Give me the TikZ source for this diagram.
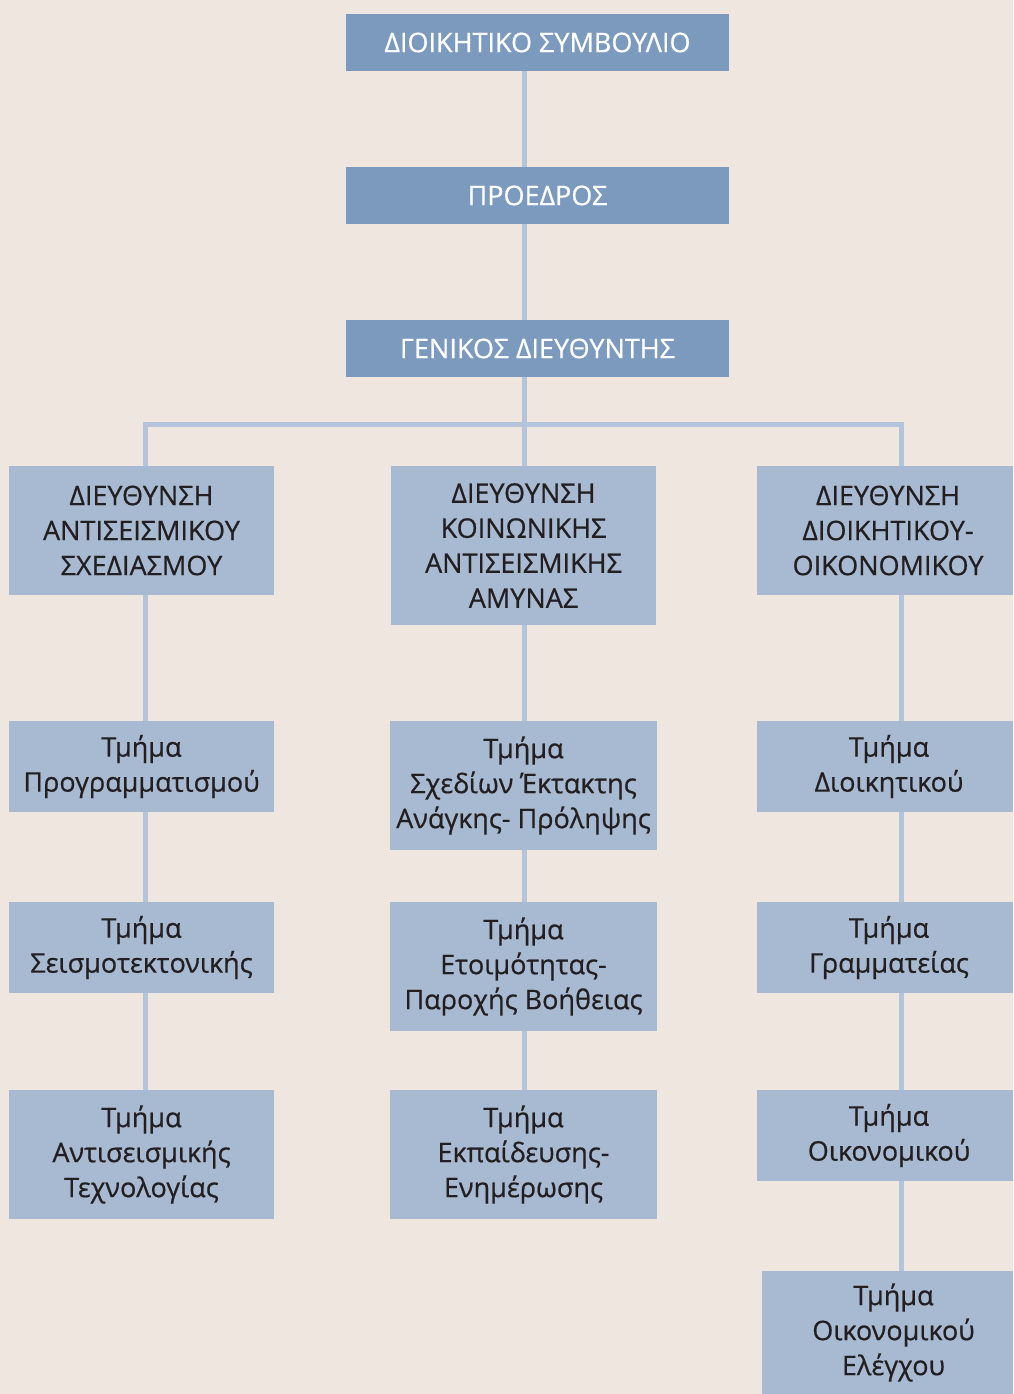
\documentclass[tikz,border=0pt]{standalone}
\usepackage{fontspec}
\setmainfont{Open Sans}
\newfontfamily\boxfont{Open Sans}[FakeBold=0.6]
\definecolor{bgc}{RGB}{238,230,223}
\definecolor{darkbox}{RGB}{124,154,190}
\definecolor{lightbox}{RGB}{168,186,210}
\definecolor{linec}{RGB}{180,196,218}
\definecolor{txt}{RGB}{35,31,32}
\begin{document}
\begin{tikzpicture}[x=1pt,y=-1pt,
  topbox/.style={fill=darkbox, text=white, inner sep=0pt, align=center,
    minimum width=383pt, minimum height=57pt, font=\boxfont\fontsize{27}{35}\selectfont},
  unitbox/.style={fill=lightbox, text=txt, inner sep=0pt, align=center,
    font=\boxfont\fontsize{27}{35}\selectfont},
  conn/.style={draw=linec, line width=5pt}]
\fill[bgc] (0,0) rectangle (1013,1394);
\useasboundingbox (0,0) rectangle (1013,1394);
% top chain
\node[topbox] (ds) at (537.5,42.5) {ΔΙΟΙΚΗΤΙΚΟ ΣΥΜΒΟΥΛΙΟ};
\node[topbox] (pr) at (537.5,195.5) {ΠΡΟΕΔΡΟΣ};
\node[topbox] (gd) at (537.5,348.5) {ΓΕΝΙΚΟΣ ΔΙΕΥΘΥΝΤΗΣ};
% directorates
\node[unitbox, minimum width=265pt, minimum height=129pt] (d1) at (141.5,530.5) {ΔΙΕΥΘΥΝΣΗ\\ΑΝΤΙΣΕΙΣΜΙΚΟΥ\\ΣΧΕΔΙΑΣΜΟΥ};
\node[unitbox, minimum width=265pt, minimum height=159pt] (d2) at (523.5,545.5) {ΔΙΕΥΘΥΝΣΗ\\ΚΟΙΝΩΝΙΚΗΣ\\ΑΝΤΙΣΕΙΣΜΙΚΗΣ\\ΑΜΥΝΑΣ};
\node[unitbox, minimum width=256pt, minimum height=129pt] (d3) at (885,530.5) {\hspace*{6pt}ΔΙΕΥΘΥΝΣΗ\\\hspace*{6pt}ΔΙΟΙΚΗΤΙΚΟΥ-\\\hspace*{6pt}ΟΙΚΟΝΟΜΙΚΟΥ};
% left column
\node[unitbox, minimum width=265pt, minimum height=91pt] (l1) at (141.5,766.5) {Τμήμα\\Προγραμματισμού};
\node[unitbox, minimum width=265pt, minimum height=91pt] (l2) at (141.5,947.5) {Τμήμα\\Σεισμοτεκτονικής};
\node[unitbox, minimum width=265pt, minimum height=129pt] (l3) at (141.5,1154.5) {Τμήμα\\Αντισεισμικής\\Τεχνολογίας};
% middle column
\node[unitbox, minimum width=267pt, minimum height=129pt] (m1) at (523.5,785.5) {Τμήμα\\Σχεδίων Έκτακτης\\Ανάγκης- Πρόληψης};
\node[unitbox, minimum width=267pt, minimum height=129pt] (m2) at (523.5,966.5) {Τμήμα\\Ετοιμότητας-\\Παροχής Βοήθειας};
\node[unitbox, minimum width=267pt, minimum height=129pt] (m3) at (523.5,1154.5) {Τμήμα\\Εκπαίδευσης-\\Ενημέρωσης};
% right column
\node[unitbox, minimum width=256pt, minimum height=91pt] (r1) at (885,766.5) {\hspace*{8pt}Τμήμα\\\hspace*{8pt}Διοικητικού};
\node[unitbox, minimum width=256pt, minimum height=91pt] (r2) at (885,947.5) {\hspace*{8pt}Τμήμα\\\hspace*{8pt}Γραμματείας};
\node[unitbox, minimum width=256pt, minimum height=91pt] (r3) at (885,1135.5) {\hspace*{8pt}Τμήμα\\\hspace*{8pt}Οικονομικού};
\node[unitbox, minimum width=251pt, minimum height=123pt] (r4) at (887.5,1332.5) {\hspace*{12pt}Τμήμα\\\hspace*{12pt}Οικονομικού\\\hspace*{12pt}Ελέγχου};
% connectors
\coordinate (bar) at (524.5,424.5);
\draw[conn] ([xshift=-13pt]ds.south) -- ([xshift=-13pt]pr.north);
\draw[conn] ([xshift=-13pt]pr.south) -- ([xshift=-13pt]gd.north);
\draw[conn] ([xshift=-13pt]gd.south) -- ([xshift=1pt]d2.north);
\draw[conn] ([xshift=4pt]d1.north) |- (bar) -| ([xshift=16.5pt]d3.north);
\draw[conn] ([xshift=4pt]d1.south) -- ([xshift=4pt]l1.north);
\draw[conn] ([xshift=4pt]l1.south) -- ([xshift=4pt]l2.north);
\draw[conn] ([xshift=4pt]l2.south) -- ([xshift=4pt]l3.north);
\draw[conn] ([xshift=1pt]d2.south) -- ([xshift=1pt]m1.north);
\draw[conn] ([xshift=1pt]m1.south) -- ([xshift=1pt]m2.north);
\draw[conn] ([xshift=1pt]m2.south) -- ([xshift=1pt]m3.north);
\draw[conn] ([xshift=16.5pt]d3.south) -- ([xshift=16.5pt]r1.north);
\draw[conn] ([xshift=16.5pt]r1.south) -- ([xshift=16.5pt]r2.north);
\draw[conn] ([xshift=16.5pt]r2.south) -- ([xshift=16.5pt]r3.north);
\draw[conn] ([xshift=16.5pt]r3.south) -- ([xshift=14pt]r4.north);
\end{tikzpicture}
\end{document}
